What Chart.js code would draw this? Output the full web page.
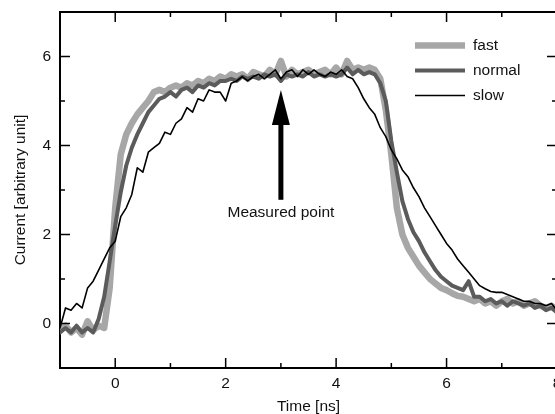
<!DOCTYPE html>
<html>
<head>
<meta charset="utf-8">
<script src="https://cdn.jsdelivr.net/npm/chart.js@4/dist/chart.umd.min.js"></script>
<style>
html,body{margin:0;padding:0;overflow:hidden;background:#fff;}
canvas{display:block;}
</style>
</head>
<body>
<canvas id="c" width="560" height="414" style="width:560px;height:414px"></canvas>
<script>
// Data (time in ns, current in arbitrary units)
const times = [-1.0,-0.9,-0.8,-0.7,-0.6,-0.5,-0.4,-0.3,-0.2,-0.1,
  0.0,0.1,0.2,0.3,0.4,0.5,0.6,0.7,0.8,0.9,
  1.0,1.1,1.2,1.3,1.4,1.5,1.6,1.7,1.8,1.9,
  2.0,2.1,2.2,2.3,2.4,2.5,2.6,2.7,2.8,2.9,
  3.0,3.1,3.2,3.3,3.4,3.5,3.6,3.7,3.8,3.9,
  4.0,4.1,4.2,4.3,4.4,4.5,4.6,4.7,4.8,4.9,
  5.0,5.1,5.2,5.3,5.4,5.5,5.6,5.7,5.8,5.9,
  6.0,6.1,6.2,6.3,6.4,6.5,6.6,6.7,6.8,6.9,
  7.0,7.1,7.2,7.3,7.4,7.5,7.6,7.7,7.8,7.9,8.0];

const fast = [-0.15,-0.05,-0.2,-0.1,-0.25,0.05,-0.15,-0.05,-0.1,0.8,
  2.6,3.8,4.25,4.5,4.7,4.85,5.0,5.2,5.25,5.2,
  5.3,5.35,5.3,5.4,5.35,5.45,5.4,5.5,5.45,5.55,
  5.5,5.6,5.55,5.6,5.5,5.65,5.6,5.55,5.7,5.6,
  5.9,5.55,5.7,5.6,5.65,5.7,5.6,5.65,5.7,5.6,
  5.75,5.6,5.9,5.7,5.75,5.7,5.75,5.7,5.5,4.8,
  3.8,2.6,2.0,1.7,1.5,1.3,1.15,1.0,0.9,0.8,
  0.75,0.68,0.62,0.6,0.55,0.5,0.55,0.45,0.5,0.4,
  0.5,0.55,0.45,0.5,0.4,0.45,0.5,0.4,0.35,0.4,0.3];

const normal = [-0.2,-0.1,-0.2,-0.05,-0.2,-0.1,-0.2,0.1,0.6,1.4,
  2.2,2.95,3.55,3.95,4.25,4.5,4.75,4.9,5.05,5.1,
  5.2,5.1,5.25,5.3,5.2,5.35,5.3,5.4,5.35,5.45,
  5.45,5.5,5.45,5.55,5.5,5.55,5.5,5.6,5.55,5.6,
  5.45,5.6,5.55,5.6,5.55,5.65,5.55,5.6,5.55,5.6,
  5.55,5.6,5.75,5.6,5.7,5.6,5.65,5.6,5.4,5.0,
  4.1,3.4,2.75,2.35,2.05,1.85,1.6,1.4,1.2,1.05,
  0.95,0.85,0.8,0.75,0.95,0.6,0.6,0.5,0.55,0.45,
  0.5,0.4,0.5,0.45,0.4,0.45,0.35,0.4,0.3,0.35,0.25];

const slow = [-0.1,0.35,0.3,0.45,0.35,0.8,0.95,1.2,1.45,1.7,
  1.85,2.4,2.6,2.9,3.5,3.4,3.85,3.95,4.05,4.3,
  4.25,4.5,4.6,4.85,4.75,5.05,5.0,5.25,5.2,5.2,
  5.0,5.4,5.45,5.55,5.45,5.55,5.6,5.5,5.6,5.7,
  5.5,5.65,5.7,5.55,5.7,5.6,5.7,5.6,5.55,5.65,
  5.6,5.7,5.55,5.5,5.3,5.05,4.85,4.7,4.4,4.2,
  3.9,3.7,3.45,3.3,3.05,2.85,2.6,2.4,2.2,2.0,
  1.8,1.65,1.45,1.3,1.15,1.0,0.85,0.78,0.72,0.7,
  0.7,0.65,0.6,0.55,0.5,0.5,0.45,0.45,0.4,0.45,0.3];

const seriesNames = ["fast","normal","slow"];
const xMajorTicks = [0,2,4,6,8];
const xMinorTicks = [1,3,5,7];
const yMajorTicks = [0,2,4,6];
const yMinorTicks = [1,3,5];
const xTitle = "Time [ns]";
const yTitle = "Current [arbitrary unit]";
const annotationText = "Measured point";
const arrowAt = 3;          // ns
const arrowTip = 5.25;      // current
const arrowHeadBase = 4.46;
const arrowTail = 2.78;
const annotationTextY = 2.48;

const FONT = "'Liberation Sans', Arial, sans-serif";
const colors = {fast:'#a7a7a7', normal:'#5b5b5b', slow:'#000000'};
const widths = {fast:6.5, normal:4, slow:1.6};

const toXY = arr => arr.map((v,i)=>({x:times[i], y:v}));
const makeSet = (name, vals) => ({
  label:name, data:toXY(vals), borderColor:colors[name], borderWidth:widths[name],
  pointRadius:0, tension:0, fill:false, borderJoinStyle:'round', borderCapStyle:'round'
});

const frame = {
  id:'frame',
  afterDatasetsDraw(chart){
    const {ctx, chartArea:a, scales:{x,y}} = chart;
    ctx.save();
    ctx.strokeStyle='#000'; ctx.lineWidth=2;
    ctx.beginPath();
    ctx.moveTo(a.left,a.top); ctx.lineTo(a.right,a.top);
    ctx.moveTo(a.right,a.top); ctx.lineTo(a.right,a.bottom);
    ctx.stroke();
    ctx.lineWidth=1.5;
    ctx.beginPath();
    const xt=(v,len)=>{const p=x.getPixelForValue(v);
      ctx.moveTo(p,a.bottom); ctx.lineTo(p,a.bottom-len);
      ctx.moveTo(p,a.top); ctx.lineTo(p,a.top+len);};
    const yt=(v,len)=>{const p=y.getPixelForValue(v);
      ctx.moveTo(a.left,p); ctx.lineTo(a.left+len,p);
      ctx.moveTo(a.right,p); ctx.lineTo(a.right-len,p);};
    xMajorTicks.forEach(v=>xt(v,10)); xMinorTicks.forEach(v=>xt(v,5));
    yMajorTicks.forEach(v=>yt(v,10)); yMinorTicks.forEach(v=>yt(v,5));
    ctx.stroke();

    // annotation arrow
    const ax = x.getPixelForValue(arrowAt);
    const tipY = y.getPixelForValue(arrowTip);
    const baseY = y.getPixelForValue(arrowHeadBase);
    const tailY = y.getPixelForValue(arrowTail);
    ctx.fillStyle='#000';
    ctx.beginPath();
    ctx.moveTo(ax,tipY); ctx.lineTo(ax-9,baseY); ctx.lineTo(ax+9,baseY); ctx.closePath();
    ctx.fill();
    ctx.fillRect(ax-2.5, baseY-1, 5, tailY-baseY+1);
    ctx.font = '15.5px '+FONT;
    ctx.textAlign='center'; ctx.textBaseline='middle';
    ctx.fillStyle='#111';
    ctx.fillText(annotationText, ax, y.getPixelForValue(annotationTextY));

    // legend
    const lx0=415, lx1=465, tx=473, rows=[45.5,70.5,95.5];
    seriesNames.forEach((n,i)=>{
      ctx.strokeStyle=colors[n]; ctx.lineWidth=widths[n]; ctx.lineCap='butt';
      ctx.beginPath(); ctx.moveTo(lx0,rows[i]); ctx.lineTo(lx1,rows[i]); ctx.stroke();
      ctx.textAlign='left'; ctx.fillStyle='#111';
      ctx.fillText(n, tx, rows[i]);
    });
    ctx.restore();
  }
};

new Chart(document.getElementById('c'), {
  type:'line',
  data:{ datasets:[ makeSet('slow',slow), makeSet('normal',normal), makeSet('fast',fast) ] },
  options:{
    responsive:false, animation:false, devicePixelRatio:1,
    layout:{padding:{left:0,right:3,top:12,bottom:0}},
    plugins:{legend:{display:false}, tooltip:{enabled:false}},
    scales:{
      x:{type:'linear', min:-1, max:8,
        afterBuildTicks:s=>{s.ticks=xMajorTicks.map(v=>({value:v}));},
        afterFit:s=>{s.height=46; s.paddingLeft=0; s.paddingRight=0;},
        grid:{display:false, drawTicks:false},
        border:{display:true, color:'#000', width:2},
        ticks:{padding:6, color:'#111', font:{family:FONT,size:15.5}, maxRotation:0, autoSkip:false},
        title:{display:true, text:xTitle, color:'#111', font:{family:FONT,size:15.5}, padding:{top:0,bottom:-2}}
      },
      y:{type:'linear', min:-1, max:7,
        afterBuildTicks:s=>{s.ticks=yMajorTicks.map(v=>({value:v}));},
        afterFit:s=>{s.width=60; s.paddingTop=0; s.paddingBottom=0;},
        grid:{display:false, drawTicks:false},
        border:{display:true, color:'#000', width:2},
        ticks:{padding:9, color:'#111', font:{family:FONT,size:15.5}},
        title:{display:true, text:yTitle, color:'#111', font:{family:FONT,size:15.5}, padding:{top:11,bottom:0}}
      }
    }
  },
  plugins:[frame]
});
</script>
</body>
</html>
